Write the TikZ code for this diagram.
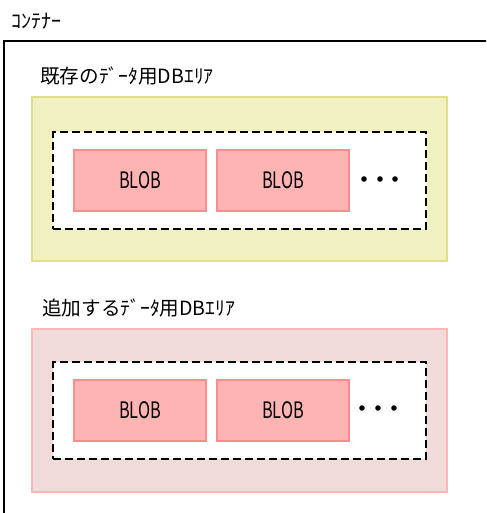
\documentclass[tikz,border=0pt]{standalone}
\usepackage{fontspec}
\newfontfamily\jp{Noto Sans CJK JP}
\newfontfamily\jpnarrow[FakeStretch=0.72]{Noto Sans CJK JP}
\definecolor{areaY}{RGB}{240,240,192}
\definecolor{areaYb}{RGB}{222,222,140}
\definecolor{areaP}{RGB}{240,218,218}
\definecolor{areaPb}{RGB}{255,182,182}
\definecolor{blobF}{RGB}{255,180,180}
\definecolor{blobB}{RGB}{255,140,140}
\begin{document}
\begin{tikzpicture}[x=0.75pt,y=-0.75pt,
  lbl/.style={anchor=west,inner sep=0pt,font=\jp\fontsize{14.7}{16}\selectfont},
  areaybox/.style={draw=areaYb,fill=areaY,line width=1.5pt,minimum width=311.25pt,minimum height=123pt,inner sep=0pt},
  areapbox/.style={draw=areaPb,fill=areaP,line width=1.5pt,minimum width=311.25pt,minimum height=122.25pt,inner sep=0pt},
  dashbox/.style={draw=black,fill=white,line width=1.5pt,dash pattern=on 6pt off 3pt,minimum width=279.5pt,minimum height=72.75pt,inner sep=0pt},
  blobbox/.style={draw=blobB,fill=blobF,line width=1pt,minimum width=99pt,minimum height=45.75pt,inner sep=0pt,font=\jpnarrow\fontsize{17}{18}\selectfont},
  dot/.style={circle,fill=black,inner sep=0pt,minimum size=4.2pt}]
\useasboundingbox (0,0) rectangle (486,513);
\clip (0,0) rectangle (486,513);
% container
\node[lbl,font=\jp\fontsize{15}{16}\selectfont] (ctitle) at (11,21) {ｺﾝﾃﾅｰ};
\coordinate (cbl) at (4,530);
\coordinate (ctl) at (4,41);
\coordinate (ctr) at (500,41);
\draw[line width=1.6pt] (cbl) -- (ctl) -- (ctr);
% existing area
\node[lbl] (t1) at (40,76) {既存のﾃﾞｰﾀ用DBｴﾘｱ};
\node[areaybox] (a1) at (239.5,179) {};
\node[dashbox] (d1) at (239.5,180.5) {};
\node[blobbox] (b11) at (140,180.5) {BLOB};
\node[blobbox] (b12) at (283,180.5) {BLOB};
\node[dot] (p11) at (364,179) {};
\node[dot] (p12) at (380,179) {};
\node[dot] (p13) at (395,179) {};
% added area
\node[lbl] (t2) at (42,308) {追加するﾃﾞｰﾀ用DBｴﾘｱ};
\node[areapbox] (a2) at (239.5,410.5) {};
\node[dashbox] (d2) at (239.5,410.5) {};
\node[blobbox] (b21) at (140,410.5) {BLOB};
\node[blobbox] (b22) at (283,410.5) {BLOB};
\node[dot] (p21) at (362,408) {};
\node[dot] (p22) at (378,408) {};
\node[dot] (p23) at (394,408) {};
\end{tikzpicture}
\end{document}
